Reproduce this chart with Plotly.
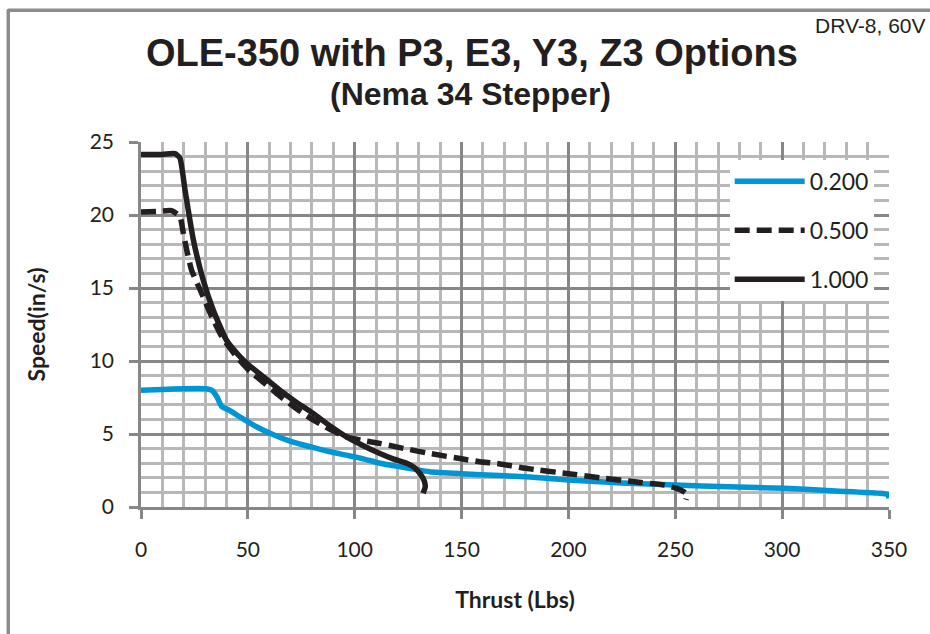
import plotly.graph_objects as go

# ---- data ----
series_names = ["0.200", "0.500", "1.000"]

thrust_02 = [0, 10, 20, 30, 33, 35.5, 37.7, 41.6, 47, 54, 62, 70, 80, 88, 96, 104, 112, 120, 128, 135,
             150, 168, 182, 200, 225, 250, 275, 301, 325, 345, 349.5, 350]
speed_02 = [8.0, 8.05, 8.1, 8.1, 8.0, 7.55, 6.9, 6.6, 6.1, 5.5, 4.95, 4.5, 4.1, 3.8, 3.55, 3.3, 3.0, 2.78, 2.58, 2.42,
            2.28, 2.15, 2.05, 1.85, 1.65, 1.5, 1.38, 1.28, 1.1, 0.95, 0.85, 0.6]

thrust_05 = [0, 8, 14.3, 18.2, 19.8, 21.4, 23.7, 27.6, 32.3, 37.7, 44.7, 51, 58, 65, 72, 80.6, 88, 96, 104, 111.8,
             120, 135, 150, 158.6, 168, 180, 199, 215, 230, 245, 250.6, 254, 255.5, 255]
speed_05 = [20.2, 20.25, 20.3, 19.9, 18.75, 17.6, 16.2, 14.9, 13.3, 11.7, 10.3, 9.3, 8.45, 7.6, 6.82, 5.96, 5.35, 4.8, 4.55, 4.36,
            4.1, 3.67, 3.3, 3.1, 2.95, 2.65, 2.3, 2.0, 1.74, 1.5, 1.28, 1.05, 0.85, 0.5]

thrust_10 = [0, 10, 15.9, 18.2, 20.6, 24.5, 29.2, 33.8, 40.1, 46.3, 50, 57, 65, 72, 80.6, 88, 96.2, 104, 111.8,
             118, 124.3, 128, 130.5, 132.5, 133, 132]
speed_10 = [24.15, 24.15, 24.2, 23.9, 21.7, 18.3, 15.5, 13.5, 11.4, 10.3, 9.78, 8.95, 8.0, 7.25, 6.4, 5.6, 4.8, 4.2, 3.67,
            3.3, 3.0, 2.7, 2.3, 1.8, 1.4, 0.94]

x_ticks = [0, 50, 100, 150, 200, 250, 300, 350]
y_ticks = [0, 5, 10, 15, 20, 25]

title_text = "OLE-350 with P3, E3, Y3, Z3 Options"
subtitle_text = "(Nema 34 Stepper)"
corner_text = "DRV-8, 60V"
x_title = "Thrust (Lbs)"
y_title = "Speed(in/s)"

BLUE = "#0096d6"
BLACK = "#231f20"
MAJOR = "#878787"
MINOR = "#b8b8b8"
FRAME = "#8c8c8c"
TICKFONT = "Lato, Open Sans, sans-serif"

fig = go.Figure()
fig.add_trace(go.Scatter(x=thrust_02, y=speed_02, mode="lines", name=series_names[0], legendgroup="a",
                         line=dict(color=BLUE, width=5.5, shape="spline", smoothing=0.5)))
fig.add_trace(go.Scatter(x=thrust_05, y=speed_05, mode="lines", name=series_names[1], legendgroup="b",
                         line=dict(color=BLACK, width=5.5, dash="15px,7px", shape="spline", smoothing=0.5)))
fig.add_trace(go.Scatter(x=thrust_10, y=speed_10, mode="lines", name=series_names[2], legendgroup="c",
                         line=dict(color=BLACK, width=5.5, shape="spline", smoothing=0.5)))

axis_common = dict(
    showgrid=True, gridcolor=MAJOR, gridwidth=2.5,
    showline=True, linecolor=MAJOR, linewidth=2.5,
    ticks="outside", ticklen=9, tickwidth=2.5, tickcolor=MAJOR,
    zeroline=False,
    tickfont=dict(family=TICKFONT, size=21, color="#231f20"),
)

fig.update_xaxes(range=[0, 350], tickvals=x_ticks, ticktext=[str(v) for v in x_ticks],
                 minor=dict(dtick=10, tick0=0, showgrid=True, gridcolor=MINOR, gridwidth=2.5, ticks=""),
                 title=dict(text=x_title, font=dict(family=TICKFONT, size=23, color="#231f20", weight="bold"), standoff=32),
                 ticklabelstandoff=13,
                 **axis_common)
fig.update_yaxes(range=[0, 25], tickvals=y_ticks, ticktext=[str(v) for v in y_ticks],
                 minor=dict(dtick=1, tick0=0, showgrid=True, gridcolor=MINOR, gridwidth=2.5, ticks=""),
                 title=dict(text=y_title, font=dict(family=TICKFONT, size=23, color="#231f20", weight="bold"), standoff=38),
                 ticklabelstandoff=11,
                 **axis_common)

fig.update_layout(
    width=930, height=634,
    margin=dict(l=141, r=41, t=142, b=127),
    paper_bgcolor="white", plot_bgcolor="white",
    showlegend=True,
    legend=dict(x=0.787, y=0.951, xanchor="left", yanchor="top", bgcolor="white",
                font=dict(family=TICKFONT, size=23, color="#231f20"),
                tracegroupgap=16, traceorder="grouped", itemwidth=70),
    annotations=[
        dict(text=title_text, xref="paper", yref="paper", x=0.4425, y=1.2438, xanchor="center", yanchor="middle",
             showarrow=False, font=dict(family="Liberation Sans, Arial, sans-serif", size=38, color="#231f20", weight="bold")),
        dict(text=subtitle_text, xref="paper", yref="paper", x=0.441, y=1.1315, xanchor="center", yanchor="middle",
             showarrow=False, font=dict(family="Liberation Sans, Arial, sans-serif", size=32, color="#231f20", weight="bold")),
        dict(text=corner_text, xref="paper", yref="paper", x=1.052, y=1.3205, xanchor="right", yanchor="middle",
             showarrow=False, font=dict(family="Liberation Sans, Arial, sans-serif", size=21, color="#231f20")),
    ],
    shapes=[
        dict(type="line", xref="paper", yref="paper", x0=-0.1778, x1=1.07, y0=1.3617, y1=1.3617,
             line=dict(color=FRAME, width=3), layer="above"),
        dict(type="line", xref="paper", yref="paper", x0=-0.1778, x1=-0.1778, y0=-0.37, y1=1.3617,
             line=dict(color=FRAME, width=3), layer="above"),
    ],
)

# decorative outer frame (top/left edges of the original chart border)
frame_js = (
    "document.body.style.margin='0';document.body.style.overflow='hidden';"
    "var f=document.createElement('div');"
    "f.style.cssText='position:fixed;left:6.5px;top:8.5px;width:2000px;height:2000px;"
    "border-top:3px solid " + FRAME + ";border-left:3px solid " + FRAME + ";pointer-events:none;z-index:10;';"
    "document.body.appendChild(f);"
)

fig.write_html("out.html", config={"displayModeBar": False}, post_script=frame_js)
